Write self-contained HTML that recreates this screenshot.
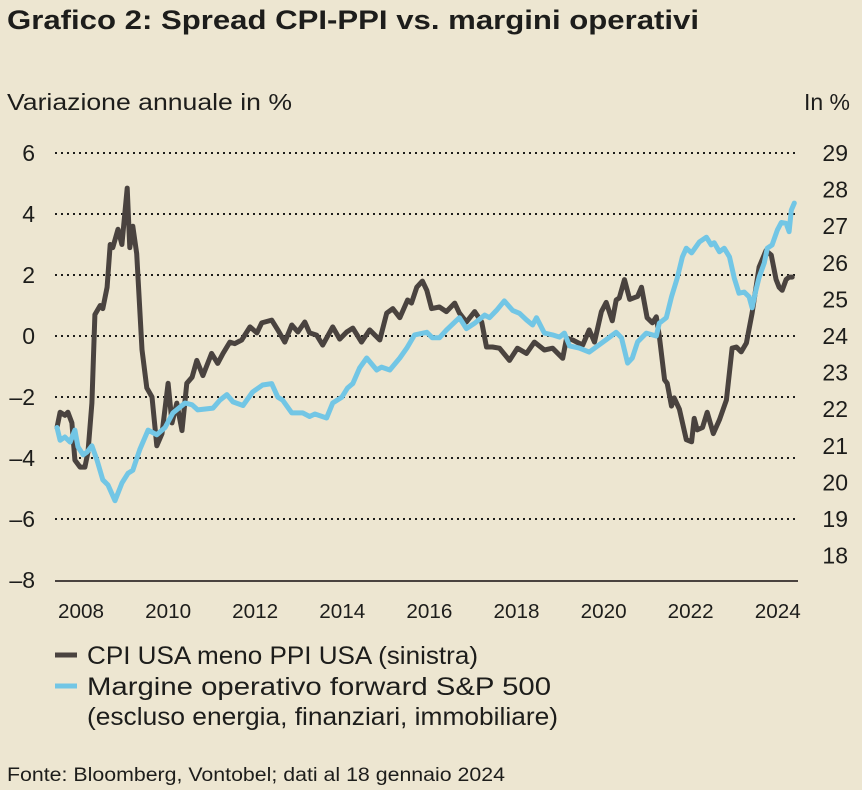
<!DOCTYPE html>
<html><head><meta charset="utf-8">
<style>
html,body{margin:0;padding:0;background:#ede6d1;}
svg{display:block;font-family:"Liberation Sans",sans-serif;}
</style></head>
<body>
<svg id="chart" width="862" height="790" viewBox="0 0 862 790" xmlns="http://www.w3.org/2000/svg">
<rect width="862" height="790" fill="#ede6d1"/>
<text x="7" y="29" font-size="27" font-weight="bold" fill="#1d1d1b" textLength="692" lengthAdjust="spacingAndGlyphs">Grafico 2: Spread CPI-PPI vs. margini operativi</text>
<text x="7" y="110" font-size="23" fill="#1d1d1b" textLength="285" lengthAdjust="spacingAndGlyphs">Variazione annuale in %</text>
<text x="850" y="110" font-size="23" fill="#1d1d1b" text-anchor="end">In %</text>
<g id="grid"></g>
<g id="series"></g>
<g>
<line x1="55" y1="655" x2="77" y2="655" stroke="#4a433f" stroke-width="5"/>
<text x="87" y="664" font-size="25" fill="#1d1d1b" textLength="391" lengthAdjust="spacingAndGlyphs">CPI USA meno PPI USA (sinistra)</text>
<line x1="55" y1="686" x2="77" y2="686" stroke="#72c6e5" stroke-width="5"/>
<text x="87" y="695" font-size="25" fill="#1d1d1b" textLength="464" lengthAdjust="spacingAndGlyphs">Margine operativo forward S&amp;P 500</text>
<text x="87" y="725" font-size="25" fill="#1d1d1b" textLength="471" lengthAdjust="spacingAndGlyphs">(escluso energia, finanziari, immobiliare)</text>
</g>
<text x="7" y="781" font-size="19" fill="#1d1d1b" textLength="498" lengthAdjust="spacingAndGlyphs">Fonte: Bloomberg, Vontobel; dati al 18 gennaio 2024</text>
</svg>
<script>
const leftTicks = [6, 4, 2, 0, -2, -4, -6, -8];
const rightTicks = [29, 28, 27, 26, 25, 24, 23, 22, 21, 20, 19, 18];
const yearTicks = [2008, 2010, 2012, 2014, 2016, 2018, 2020, 2022, 2024];

const cpiDates = [2007.45,2007.52,2007.63,2007.70,2007.79,2007.86,2007.98,2008.09,2008.16,2008.25,2008.32,2008.44,2008.50,2008.60,2008.67,2008.73,2008.85,2008.94,2009.06,2009.12,2009.19,2009.28,2009.40,2009.51,2009.63,2009.74,2009.86,2010.00,2010.09,2010.20,2010.32,2010.43,2010.55,2010.66,2010.80,2011.00,2011.14,2011.26,2011.42,2011.53,2011.69,2011.88,2012.04,2012.15,2012.38,2012.52,2012.68,2012.84,2012.98,2013.14,2013.25,2013.41,2013.55,2013.78,2013.94,2014.10,2014.24,2014.44,2014.63,2014.86,2015.02,2015.16,2015.32,2015.50,2015.59,2015.71,2015.84,2015.94,2016.05,2016.23,2016.39,2016.58,2016.69,2016.85,2017.04,2017.20,2017.31,2017.45,2017.61,2017.84,2018.02,2018.23,2018.41,2018.64,2018.83,2019.06,2019.15,2019.29,2019.52,2019.67,2019.79,2019.95,2020.06,2020.20,2020.29,2020.36,2020.48,2020.60,2020.78,2020.87,2021.00,2021.12,2021.21,2021.28,2021.40,2021.46,2021.56,2021.62,2021.74,2021.90,2022.02,2022.08,2022.15,2022.27,2022.38,2022.52,2022.66,2022.82,2022.95,2023.05,2023.16,2023.28,2023.41,2023.57,2023.73,2023.85,2023.96,2024.03,2024.10,2024.19,2024.26,2024.33];
const cpiValues = [-3.0,-2.5,-2.6,-2.5,-2.85,-4.07,-4.3,-4.3,-3.8,-2.2,0.7,1.0,0.9,1.6,3.0,2.9,3.5,3.0,4.85,2.9,3.6,2.7,-0.45,-1.7,-2.0,-3.6,-3.2,-1.55,-2.85,-2.2,-3.1,-1.55,-1.35,-0.8,-1.3,-0.57,-0.9,-0.57,-0.2,-0.25,-0.13,0.3,0.1,0.43,0.52,0.2,-0.2,0.36,0.13,0.46,0.1,0.03,-0.3,0.3,-0.1,0.13,0.26,-0.2,0.2,-0.13,0.75,0.9,0.6,1.18,1.08,1.6,1.8,1.5,0.9,0.95,0.8,1.08,0.75,0.46,0.8,0.46,-0.36,-0.36,-0.4,-0.8,-0.4,-0.57,-0.2,-0.46,-0.4,-0.73,-0.07,-0.13,-0.3,0.2,-0.2,0.8,1.1,0.5,1.18,1.25,1.85,1.2,1.3,1.6,0.6,0.43,0.63,0.0,-1.44,-1.55,-2.3,-2.03,-2.4,-3.4,-3.47,-2.7,-3.08,-3.0,-2.5,-3.2,-2.75,-2.1,-0.4,-0.36,-0.52,-0.23,0.75,2.26,2.8,2.65,1.85,1.6,1.5,1.85,1.93,1.93];

const marginDates = [2007.45,2007.52,2007.63,2007.75,2007.86,2007.93,2008.05,2008.14,2008.25,2008.37,2008.50,2008.62,2008.78,2008.94,2009.08,2009.19,2009.35,2009.54,2009.74,2009.93,2010.11,2010.39,2010.55,2010.68,2011.03,2011.19,2011.35,2011.49,2011.72,2011.94,2012.17,2012.38,2012.52,2012.63,2012.84,2013.09,2013.25,2013.37,2013.64,2013.78,2013.99,2014.12,2014.24,2014.40,2014.56,2014.79,2014.90,2015.09,2015.32,2015.48,2015.66,2015.94,2016.07,2016.23,2016.39,2016.69,2016.85,2017.04,2017.27,2017.38,2017.54,2017.72,2017.91,2018.07,2018.23,2018.37,2018.46,2018.64,2018.83,2018.99,2019.10,2019.22,2019.44,2019.67,2019.83,2020.06,2020.29,2020.41,2020.55,2020.66,2020.78,2020.98,2021.21,2021.28,2021.44,2021.56,2021.69,2021.81,2021.90,2022.02,2022.20,2022.36,2022.47,2022.54,2022.66,2022.77,2022.89,2023.00,2023.11,2023.23,2023.34,2023.41,2023.50,2023.57,2023.69,2023.76,2023.87,2023.99,2024.08,2024.19,2024.26,2024.31,2024.38];
const marginValues = [21.5,21.15,21.24,21.1,21.43,20.97,20.75,20.83,21.0,20.6,20.07,19.93,19.5,19.98,20.25,20.33,20.9,21.43,21.3,21.5,21.9,22.17,22.12,21.98,22.03,22.25,22.4,22.2,22.1,22.47,22.66,22.7,22.33,22.25,21.9,21.9,21.8,21.87,21.76,22.17,22.33,22.58,22.7,23.13,23.4,23.07,23.15,23.07,23.4,23.67,24.03,24.1,23.95,23.95,24.16,24.5,24.2,24.35,24.57,24.5,24.7,24.96,24.7,24.62,24.44,24.3,24.5,24.08,24.03,23.97,24.08,23.73,23.67,23.56,23.7,23.9,24.1,23.95,23.26,23.4,23.84,24.08,24.0,24.35,24.5,25.07,25.58,26.16,26.4,26.27,26.57,26.7,26.49,26.55,26.3,26.4,26.16,25.58,25.17,25.2,25.07,24.77,25.26,25.6,26.0,26.4,26.49,26.9,27.1,27.08,26.85,27.44,27.63];

const NS = "http://www.w3.org/2000/svg";
function xScale(t){ return 81 + (t - 2008) * 43.55; }
function yLeft(v){ return 336 - v * 30.5; }
function yRight(v){ return 336 - (v - 24) * 36.6; }

const grid = document.getElementById('grid');
leftTicks.forEach(function(v){
  const y = yLeft(v);
  if (v !== -8) {
    const l = document.createElementNS(NS,'line');
    l.setAttribute('x1',55); l.setAttribute('x2',798);
    l.setAttribute('y1',y); l.setAttribute('y2',y);
    l.setAttribute('stroke','#1d1d1b'); l.setAttribute('stroke-width','2');
    l.setAttribute('stroke-dasharray','2 4');
    
    
    grid.appendChild(l);
  }
  const t = document.createElementNS(NS,'text');
  t.setAttribute('x',35); t.setAttribute('y',y+8);
  t.setAttribute('text-anchor','end'); t.setAttribute('font-size','23'); t.setAttribute('fill','#1d1d1b');
  t.textContent = v < 0 ? '\u2013' + Math.abs(v) : String(v);
  
  
  grid.appendChild(t);
});
const axis = document.createElementNS(NS,'line');
axis.setAttribute('x1',55); axis.setAttribute('x2',798);
axis.setAttribute('y1',yLeft(-8)+1); axis.setAttribute('y2',yLeft(-8)+1);
axis.setAttribute('stroke','#4a433f'); axis.setAttribute('stroke-width','2');


grid.appendChild(axis);
rightTicks.forEach(function(v){
  const t = document.createElementNS(NS,'text');
  t.setAttribute('x',848); t.setAttribute('y',yRight(v)+8);
  t.setAttribute('text-anchor','end'); t.setAttribute('font-size','23'); t.setAttribute('fill','#1d1d1b');
  t.textContent = String(v);
  
  
  grid.appendChild(t);
});
yearTicks.forEach(function(yr){
  const t = document.createElementNS(NS,'text');
  t.setAttribute('x',xScale(yr)); t.setAttribute('y',618);
  t.setAttribute('text-anchor','middle'); t.setAttribute('font-size','20'); t.setAttribute('fill','#1d1d1b');
  t.setAttribute('textLength','46'); t.setAttribute('lengthAdjust','spacingAndGlyphs');
  t.textContent = String(yr);
  
  
  grid.appendChild(t);
});

const series = document.getElementById('series');
function drawLine(dates, vals, yf, color, name){
  let d = '';
  for (let i = 0; i < dates.length; i++) {
    d += (i ? 'L' : 'M') + xScale(dates[i]).toFixed(1) + ',' + yf(vals[i]).toFixed(1);
  }
  const p = document.createElementNS(NS,'path');
  p.setAttribute('d', d); p.setAttribute('fill','none');
  p.setAttribute('stroke', color); p.setAttribute('stroke-width','5');
  p.setAttribute('stroke-linejoin','round'); p.setAttribute('stroke-linecap','round');
  
  
  series.appendChild(p);
}
drawLine(cpiDates, cpiValues, yLeft, '#4a433f', 'cpi-ppi-line');
drawLine(marginDates, marginValues, yRight, '#72c6e5', 'operating-margin-line');
</script>
</body></html>
